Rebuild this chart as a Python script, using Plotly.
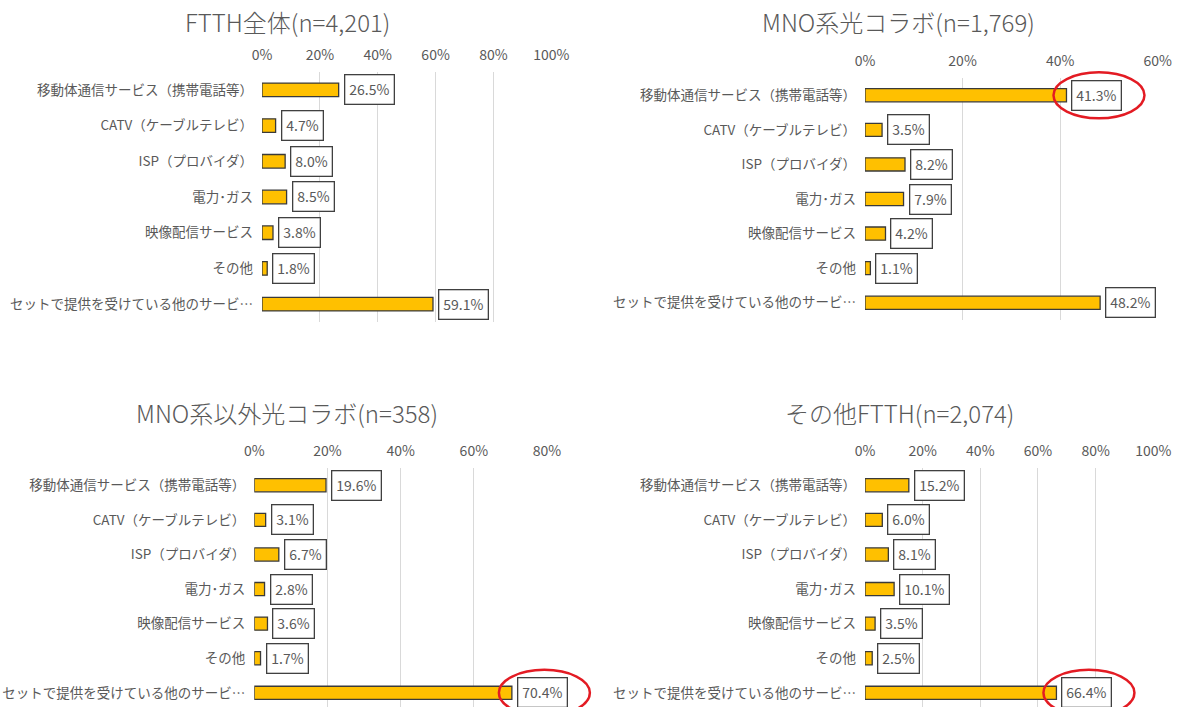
import plotly.graph_objects as go

# Survey categories (top to bottom)
categories = [
    "移動体通信サービス（携帯電話等）",
    "CATV（ケーブルテレビ）",
    "ISP（プロバイダ）",
    "電力･ガス",
    "映像配信サービス",
    "その他",
    "セットで提供を受けている他のサービ…",
]

# Shares (%) per FTTH segment
ftth_all = [26.5, 4.7, 8.0, 8.5, 3.8, 1.8, 59.1]
mno_collab = [41.3, 3.5, 8.2, 7.9, 4.2, 1.1, 48.2]
non_mno_collab = [19.6, 3.1, 6.7, 2.8, 3.6, 1.7, 70.4]
other_ftth = [15.2, 6.0, 8.1, 10.1, 3.5, 2.5, 66.4]

titles = [
    "FTTH全体(n=4,201)",
    "MNO系光コラボ(n=1,769)",
    "MNO系以外光コラボ(n=358)",
    "その他FTTH(n=2,074)",
]

# Highlighted bar (category index) per panel, None = no highlight
highlights = [None, 0, 6, 6]

W, H = 1178, 707
FONT = "Noto Sans CJK JP"
GRAY = "#595959"
BAR = "#FFC000"
EDGE = "#3A3A3A"
RED = "#E31B23"

# Panel layout: x pixel span, y pixel span, axis max, y-range bottom, title centre
panels = [
    dict(data=ftth_all, xpx=(262, 551.3), ypx=(72, 322), xmax=100, ybot=6.5, tx=287, ty=21),
    dict(data=mno_collab, xpx=(865, 1157.7), ypx=(78, 320), xmax=60, ybot=6.5, tx=898, ty=21),
    dict(data=non_mno_collab, xpx=(254.3, 547), ypx=(468, 707), xmax=80, ybot=6.41, tx=287, ty=412),
    dict(data=other_ftth, xpx=(865, 1153.3), ypx=(468, 707), xmax=100, ybot=6.41, tx=899, ty=412),
]

fig = go.Figure()
annotations = []
shapes = []

for i, p in enumerate(panels):
    n = "" if i == 0 else str(i + 1)
    xa, ya = "x" + n, "y" + n
    fig.add_trace(go.Bar(
        x=p["data"], y=categories, orientation="h",
        xaxis=xa, yaxis=ya, width=0.38,
        marker=dict(color=BAR, line=dict(color=EDGE, width=1.3)),
        hoverinfo="skip", showlegend=False,
    ))

    x0, x1 = p["xpx"]
    y0, y1 = p["ypx"]
    xdom = [x0 / W, x1 / W]
    ydom = [1 - y1 / H, 1 - y0 / H]
    tick_vals = list(range(0, p["xmax"] + 1, 20))
    fig.update_layout(**{
        "xaxis" + n: dict(
            domain=xdom, anchor=ya, side="top", range=[0, p["xmax"]],
            tickmode="array", tickvals=tick_vals,
            ticktext=[f"{t}%" for t in tick_vals],
            showgrid=True, gridcolor="#D9D9D9", gridwidth=1,
            zeroline=False, showline=False, ticks="", ticklabelstandoff=8,
            tickfont=dict(family=FONT, size=14, color=GRAY),
            automargin=False, fixedrange=True,
        ),
        "yaxis" + n: dict(
            domain=ydom, anchor=xa, type="category",
            categoryorder="array", categoryarray=categories,
            range=[p["ybot"], -0.5], showgrid=False, zeroline=False,
            showline=False, ticks="", ticklabelstandoff=8,
            tickfont=dict(family=FONT, size=13.5, color=GRAY),
            automargin=False, fixedrange=True,
        ),
    })

    # value labels in bordered boxes
    for c, v in zip(categories, p["data"]):
        annotations.append(dict(
            x=v, y=c, xref=xa, yref=ya, xanchor="left", yanchor="middle",
            xshift=5, showarrow=False, text=f"{v:.1f}%",
            font=dict(family=FONT, size=14, color=GRAY),
            bgcolor="white", bordercolor="#404040", borderwidth=1.3, borderpad=4,
        ))

    # panel title
    annotations.append(dict(
        x=p["tx"] / W, y=1 - p["ty"] / H, xref="paper", yref="paper",
        xanchor="center", yanchor="middle", showarrow=False, text=titles[i],
        font=dict(family=FONT, size=24, color=GRAY, weight=300),
    ))

    # red ellipse around the highlighted value
    h = highlights[i]
    if h is not None:
        v = p["data"][h]
        yfrac = (p["ybot"] - h) / (p["ybot"] + 0.5)
        shapes.append(dict(
            type="circle", xref=xa + " domain", yref=ya + " domain",
            xsizemode="pixel", xanchor=v / p["xmax"], x0=-13, x1=78,
            ysizemode="pixel", yanchor=yfrac, y0=-23, y1=23,
            line=dict(color=RED, width=2.5), layer="above",
        ))

fig.update_layout(
    width=W, height=H, margin=dict(l=0, r=0, t=0, b=0, autoexpand=False),
    paper_bgcolor="white", plot_bgcolor="white",
    annotations=annotations, shapes=shapes, showlegend=False,
    font=dict(family=FONT, color=GRAY),
)

fig.write_html("out.html")
